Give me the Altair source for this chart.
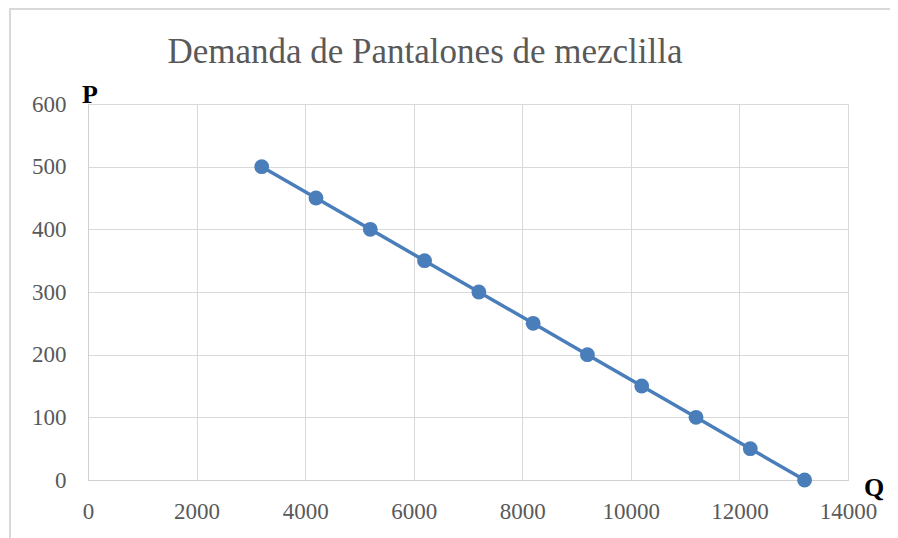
import altair as alt
import pandas as pd

Q = [3200, 4200, 5200, 6200, 7200, 8200, 9200, 10200, 11200, 12200, 13200]
P = [500, 450, 400, 350, 300, 250, 200, 150, 100, 50, 0]
x_ticks = [0, 2000, 4000, 6000, 8000, 10000, 12000, 14000]
y_ticks = [0, 100, 200, 300, 400, 500, 600]
title_text = "Demanda de Pantalones de mezclilla"

df = pd.DataFrame({"Q": Q, "P": P})

W, H = 760, 376
FONT = "Liberation Serif"
BLUE = "#4a7ebb"

xs = alt.Scale(domain=[0, 14000], nice=False)
ys = alt.Scale(domain=[0, 600], nice=False)

base = alt.Chart(df)

line = base.mark_line(color=BLUE, strokeWidth=3.5).encode(
    x=alt.X("Q:Q", scale=xs, axis=alt.Axis(values=x_ticks, format="d", title=None, labelFont=FONT,
            labelFontSize=23, labelColor="#595959", labelPadding=20, ticks=False,
            domainColor="#d0d0d0", gridColor="#d9d9d9", labelFlush=False, labelOverlap=False)),
    y=alt.Y("P:Q", scale=ys, axis=alt.Axis(values=y_ticks, format="d", title=None, labelFont=FONT,
            labelFontSize=23, labelColor="#595959", labelPadding=22, ticks=False,
            domainColor="#d0d0d0", gridColor="#d9d9d9", labelFlush=False, labelOverlap=False)),
)
pts = base.mark_circle(color=BLUE, size=220, opacity=1).encode(x="Q:Q", y="P:Q")

title = alt.Chart(pd.DataFrame({"t": [title_text]})).mark_text(
    font=FONT, fontSize=35, color="#595959", align="center", baseline="alphabetic"
).encode(x=alt.value(337), y=alt.value(-41), text="t:N")

plab = alt.Chart(pd.DataFrame({"t": ["P"]})).mark_text(
    font=FONT, fontSize=26, fontWeight="bold", color="black", align="center", baseline="alphabetic"
).encode(x=alt.value(2), y=alt.value(-1), text="t:N")

qlab = alt.Chart(pd.DataFrame({"t": ["Q"]})).mark_text(
    font=FONT, fontSize=26, fontWeight="bold", color="black", align="center", baseline="alphabetic"
).encode(x=alt.value(786), y=alt.value(H + 16), text="t:N")

border = alt.Chart(pd.DataFrame({"a": [0]})).mark_rect(
    fill=None, stroke="#d9d9d9", strokeWidth=2
).encode(x=alt.value(-78), x2=alt.value(830), y=alt.value(-95), y2=alt.value(460))

chart = alt.layer(border, line, pts, title, plab, qlab).properties(
    width=W, height=H,
    padding={"left": 80, "top": 96, "right": 42, "bottom": 58},
    autosize=alt.AutoSizeParams(type="none"),
).configure_view(stroke=None).configure(background="white")

chart.save("out.html", embed_options={"renderer": "svg", "actions": False})
